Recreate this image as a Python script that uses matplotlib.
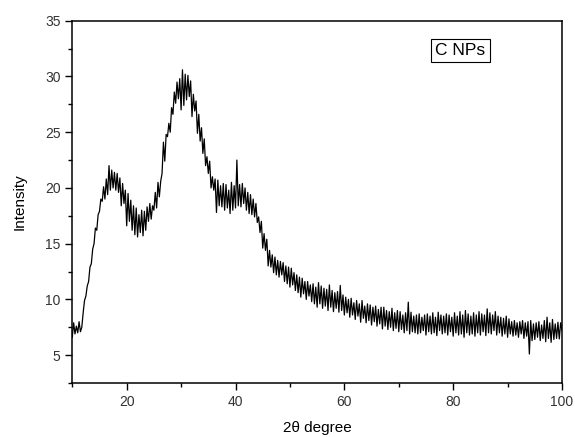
import numpy as np
import matplotlib
matplotlib.use("Agg")
import matplotlib.pyplot as plt
from matplotlib.ticker import MultipleLocator

plt.rcParams['font.family'] = ['Liberation Sans', 'DejaVu Sans']

two_theta_start = 10.0
two_theta_step = 0.25

intensity = [
    6.6, 7.9, 6.9, 7.6, 7.0, 8.0, 7.1, 7.5, 8.8, 9.9, 10.3, 11.2, 11.6, 12.9, 13.2, 14.5, 15.0, 16.4, 16.2, 17.6,
    17.9, 19.0, 18.8, 20.1, 19.0, 20.8, 19.4, 22.0, 19.8, 21.6, 20.0, 21.4, 19.8, 21.3, 19.6, 20.9, 18.4, 20.4, 18.6, 19.8,
    16.6, 19.5, 17.0, 18.9, 16.2, 18.4, 15.8, 18.2, 15.6, 17.6, 16.0, 18.0, 15.7, 17.9, 16.2, 18.3, 17.0, 18.6, 17.2, 18.4,
    18.0, 19.6, 18.2, 20.5, 19.2, 20.6, 21.3, 24.1, 22.4, 24.8, 24.6, 25.8, 25.0, 27.2, 26.6, 28.6, 27.6, 29.5, 28.0, 29.8,
    27.0, 30.6, 27.4, 30.2, 27.9, 30.1, 28.2, 29.6, 26.4, 28.4, 26.9, 27.8, 24.9, 26.6, 24.2, 25.4, 23.1, 24.4, 22.0, 22.8,
    21.3, 22.4, 20.0, 21.0, 19.8, 20.8, 17.8, 20.7, 18.4, 20.2, 18.3, 20.4, 18.0, 20.3, 18.2, 19.8, 17.7, 20.5, 18.0, 20.2,
    18.2, 22.5, 18.4, 20.3, 18.3, 20.4, 18.6, 20.0, 18.0, 19.6, 17.7, 19.4, 17.6, 19.0, 17.4, 18.6, 16.9, 17.4, 16.0, 17.0,
    14.6, 15.9, 14.4, 15.4, 13.0, 14.4, 12.9, 14.0, 12.4, 13.8, 12.2, 13.5, 12.0, 13.4, 12.2, 13.3, 11.6, 13.0, 11.4, 12.9,
    11.1, 12.8, 11.3, 12.4, 10.8, 12.2, 10.6, 12.0, 10.2, 11.9, 10.5, 11.6, 10.0, 11.6, 10.3, 11.3, 9.8, 11.4, 9.6, 11.1,
    9.3, 11.5, 9.6, 11.2, 9.2, 11.0, 9.4, 10.9, 9.0, 11.3, 9.3, 10.8, 8.9, 10.6, 9.2, 10.7, 8.85, 11.25, 9.0, 10.4,
    8.6, 10.2, 8.8, 10.0, 8.4, 10.1, 8.6, 9.7, 8.2, 9.9, 8.5, 9.6, 7.95, 9.9, 8.3, 9.4, 7.9, 9.6, 8.1, 9.5,
    7.7, 9.3, 8.0, 9.4, 7.6, 9.1, 7.8, 9.3, 7.35, 9.3, 7.6, 9.0, 7.3, 8.9, 7.5, 9.2, 7.2, 8.8, 7.4, 9.0,
    7.1, 8.9, 7.3, 8.6, 7.0, 8.8, 7.2, 9.75, 6.9, 8.85, 7.1, 8.5, 7.0, 8.6, 6.9, 8.7, 7.0, 8.4, 7.2, 8.6,
    6.8, 8.7, 7.1, 8.5, 6.9, 8.8, 7.0, 8.4, 6.75, 8.85, 7.2, 8.6, 6.9, 8.5, 7.0, 8.7, 6.8, 8.6, 7.1, 8.4,
    6.7, 8.8, 7.0, 8.5, 6.8, 8.9, 6.9, 8.6, 6.6, 9.0, 7.0, 8.7, 6.8, 8.5, 6.9, 8.8, 6.7, 8.6, 7.0, 8.9,
    6.8, 8.7, 7.1, 8.6, 6.75, 9.15, 7.0, 8.8, 6.9, 8.6, 7.2, 8.9, 6.8, 8.5, 7.0, 8.4, 6.7, 8.3, 6.9, 8.5,
    6.6, 8.25, 6.9, 8.0, 6.7, 8.1, 6.8, 7.9, 6.6, 8.0, 6.9, 8.1, 6.5, 7.9, 6.7, 8.0, 5.1, 8.1, 6.3, 7.8,
    6.4, 7.9, 6.6, 8.0, 6.3, 7.7, 6.5, 8.1, 6.2, 8.4, 6.5, 7.9, 6.15, 8.2, 6.4, 7.8, 6.5, 7.95, 6.45, 7.9,
    7.2,
]
two_theta = two_theta_start + two_theta_step * np.arange(len(intensity))

x_ticks = [20, 40, 60, 80, 100]
y_ticks = [5, 10, 15, 20, 25, 30, 35]

fig = plt.figure(figsize=(5.75, 4.37), dpi=100)
ax = fig.add_axes([0.1257, 0.1236, 0.8517, 0.829])
ax.plot(two_theta, intensity, color='black', linewidth=0.9)

ax.set_xlim(10, 100)
ax.set_ylim(2.5, 35)
ax.set_xticks(x_ticks)
ax.set_yticks(y_ticks)
ax.xaxis.set_minor_locator(MultipleLocator(10))
ax.yaxis.set_minor_locator(MultipleLocator(2.5))
ax.tick_params(which='major', direction='out', length=5, width=1,
               labelsize=10, labelcolor='#333333', top=False, right=False)
ax.tick_params(which='minor', direction='out', length=3, width=1, top=False, right=False)
for s in ax.spines.values():
    s.set_linewidth(1.1)

ax.set_xlabel('2θ degree', fontsize=11, labelpad=9)
ax.set_ylabel('Intensity', fontsize=11, labelpad=13)

ax.text(0.792, 0.918, 'C NPs', transform=ax.transAxes, fontsize=12.5,
        ha='center', va='center',
        bbox=dict(boxstyle='square,pad=0.25', facecolor='white', edgecolor='black', linewidth=0.8))

fig.savefig('out.png', dpi=100)
